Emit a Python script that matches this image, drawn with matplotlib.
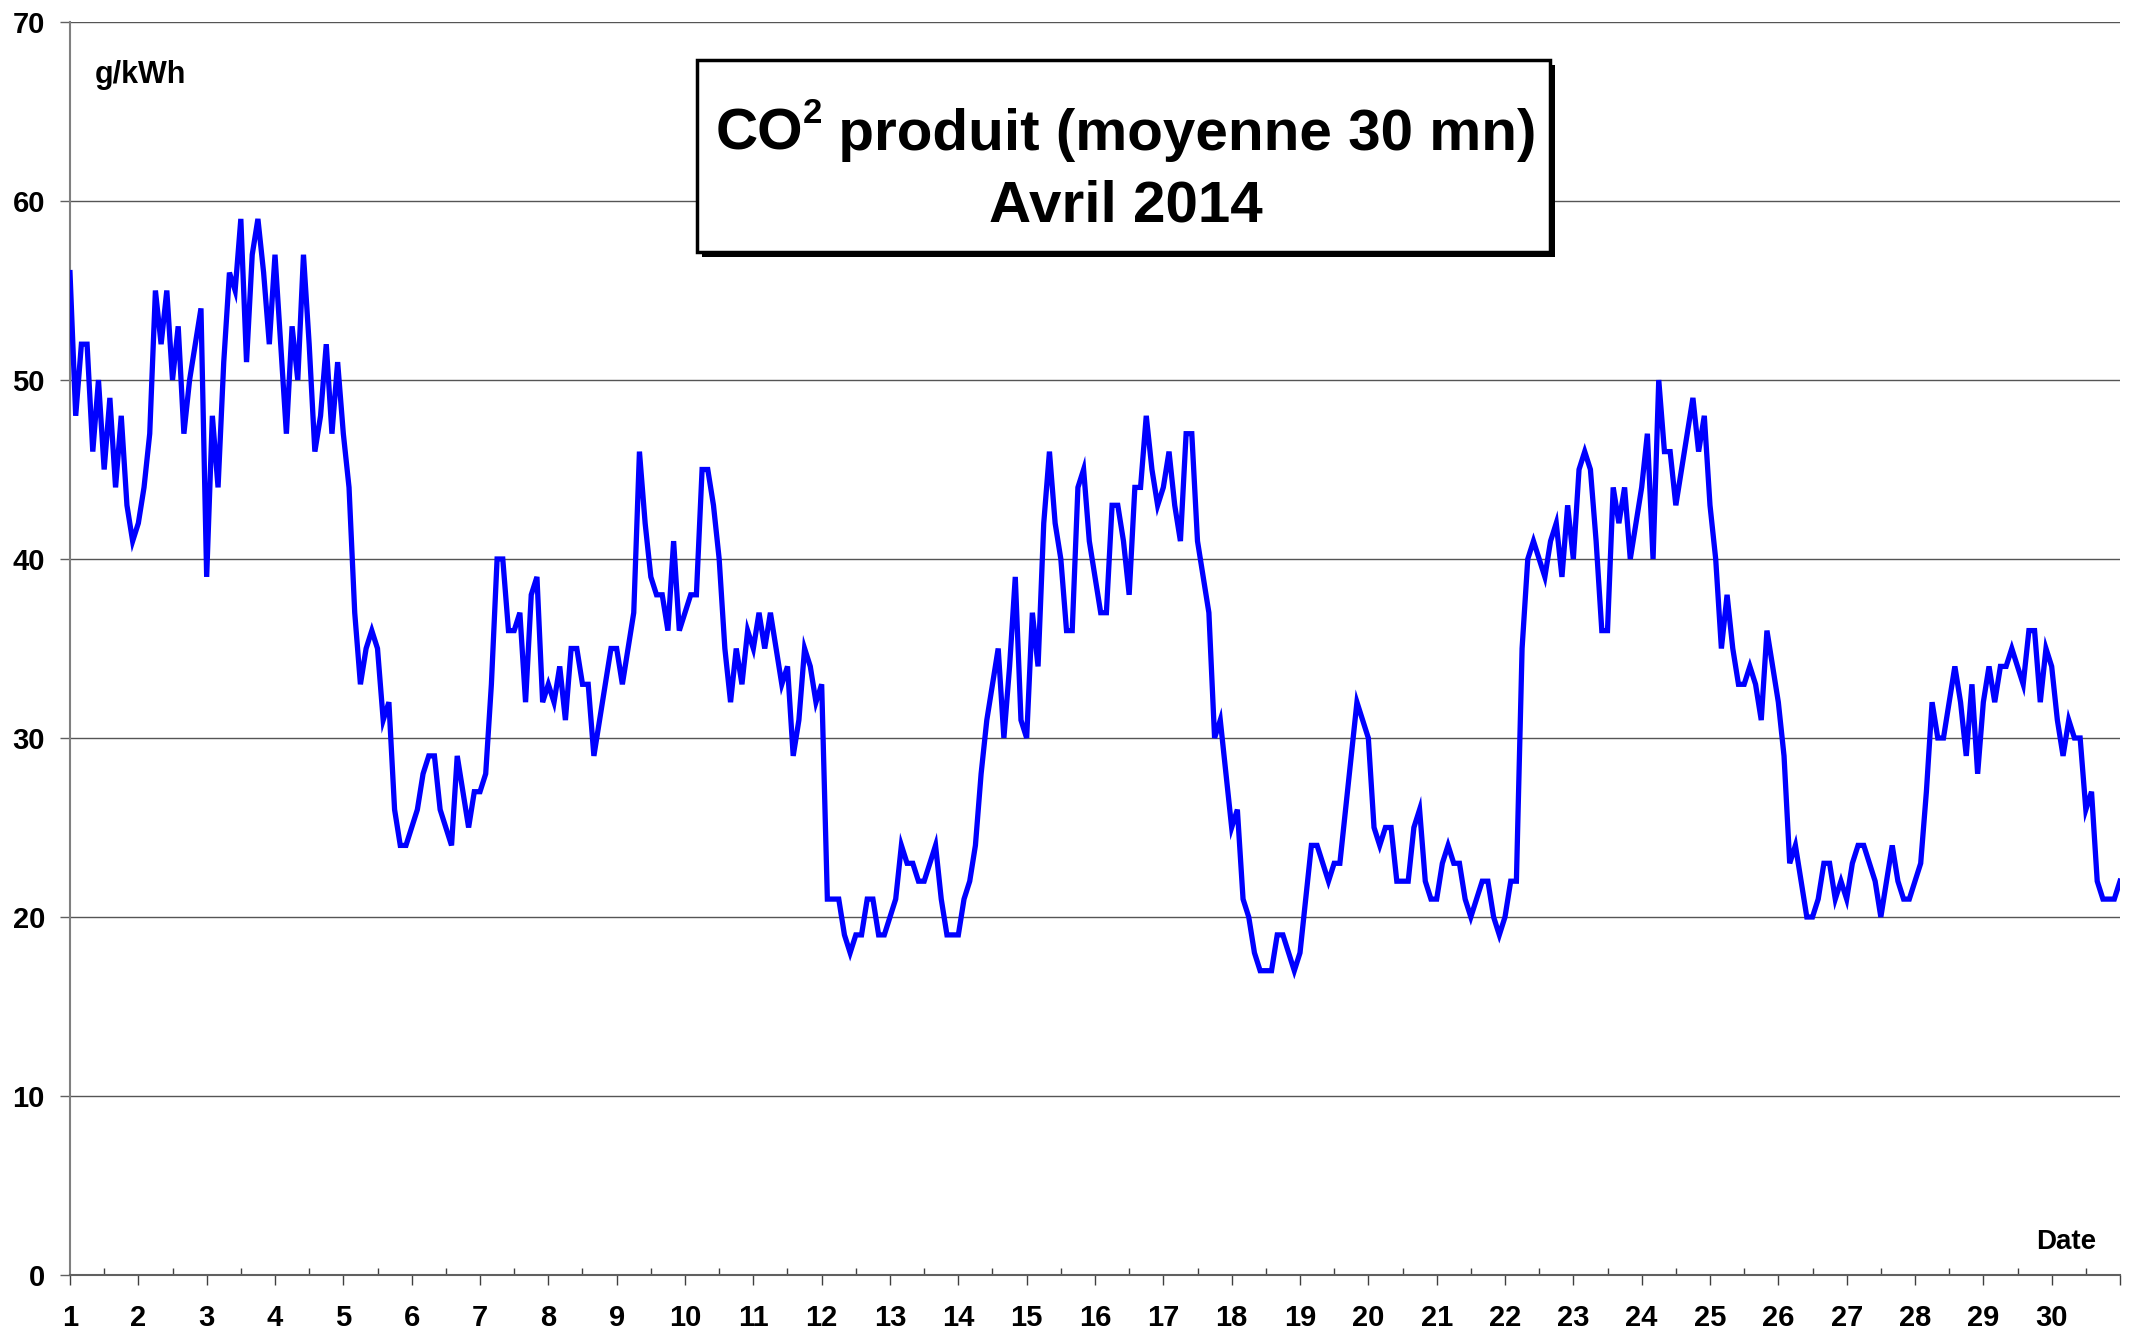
import matplotlib
matplotlib.use("Agg")
import matplotlib.pyplot as plt
import matplotlib.patches as patches
import numpy as np

plt.rcParams["font.family"] = ["Liberation Sans", "DejaVu Sans"]

# CO2 (g/kWh), read every 2 hours, one list per day of April 2014
j01 = [56, 48, 52, 52, 46, 50, 45, 49, 44, 48, 43, 41]
j02 = [42, 44, 47, 55, 52, 55, 50, 53, 47, 50, 52, 54]
j03 = [39, 48, 44, 51, 56, 55, 59, 51, 57, 59, 56, 52]
j04 = [57, 52, 47, 53, 50, 57, 52, 46, 48, 52, 47, 51]
j05 = [47, 44, 37, 33, 35, 36, 35, 31, 32, 26, 24, 24]
j06 = [25, 26, 28, 29, 29, 26, 25, 24, 29, 27, 25, 27]
j07 = [27, 28, 33, 40, 40, 36, 36, 37, 32, 38, 39, 32]
j08 = [33, 32, 34, 31, 35, 35, 33, 33, 29, 31, 33, 35]
j09 = [35, 33, 35, 37, 46, 42, 39, 38, 38, 36, 41, 36]
j10 = [37, 38, 38, 45, 45, 43, 40, 35, 32, 35, 33, 36]
j11 = [35, 37, 35, 37, 35, 33, 34, 29, 31, 35, 34, 32]
j12 = [33, 21, 21, 21, 19, 18, 19, 19, 21, 21, 19, 19]
j13 = [20, 21, 24, 23, 23, 22, 22, 23, 24, 21, 19, 19]
j14 = [19, 21, 22, 24, 28, 31, 33, 35, 30, 34, 39, 31]
j15 = [30, 37, 34, 42, 46, 42, 40, 36, 36, 44, 45, 41]
j16 = [39, 37, 37, 43, 43, 41, 38, 44, 44, 48, 45, 43]
j17 = [44, 46, 43, 41, 47, 47, 41, 39, 37, 30, 31, 28]
j18 = [25, 26, 21, 20, 18, 17, 17, 17, 19, 19, 18, 17]
j19 = [18, 21, 24, 24, 23, 22, 23, 23, 26, 29, 32, 31]
j20 = [30, 25, 24, 25, 25, 22, 22, 22, 25, 26, 22, 21]
j21 = [21, 23, 24, 23, 23, 21, 20, 21, 22, 22, 20, 19]
j22 = [20, 22, 22, 35, 40, 41, 40, 39, 41, 42, 39, 43]
j23 = [40, 45, 46, 45, 41, 36, 36, 44, 42, 44, 40, 42]
j24 = [44, 47, 40, 50, 46, 46, 43, 45, 47, 49, 46, 48]
j25 = [43, 40, 35, 38, 35, 33, 33, 34, 33, 31, 36, 34]
j26 = [32, 29, 23, 24, 22, 20, 20, 21, 23, 23, 21, 22]
j27 = [21, 23, 24, 24, 23, 22, 20, 22, 24, 22, 21, 21]
j28 = [22, 23, 27, 32, 30, 30, 32, 34, 32, 29, 33, 28]
j29 = [32, 34, 32, 34, 34, 35, 34, 33, 36, 36, 32, 35]
j30 = [34, 31, 29, 31, 30, 30, 26, 27, 22, 21, 21, 21]
last_value = 22  # 1 May 00:00

days = [j01, j02, j03, j04, j05, j06, j07, j08, j09, j10,
        j11, j12, j13, j14, j15, j16, j17, j18, j19, j20,
        j21, j22, j23, j24, j25, j26, j27, j28, j29, j30]
day_labels = [str(d) for d in range(1, 31)]

values = np.array(sum(days, []) + [last_value], dtype=float)
step = 1.0 / len(j01)
t = 1 + np.arange(len(values)) * step

W, H = 2138, 1337
fig = plt.figure(figsize=(W / 100, H / 100), dpi=100)
ax = fig.add_axes([70 / W, 62 / H, 2050 / W, 1253 / H])

ax.plot(t, values, color="#0000FF", lw=3.8, solid_joinstyle="miter", zorder=3)

ax.set_xlim(1, 31)
ax.set_ylim(0, 70)

ax.set_xticks(range(1, 32))
ax.set_xticklabels(day_labels + [""])
ax.set_xticks(np.arange(1.5, 31, 1), minor=True)
ax.set_yticks(range(0, 71, 10))

ax.tick_params(axis="x", which="major", direction="out", length=7, width=1,
               color="#404040", labelsize=21, pad=14)
ax.tick_params(axis="x", which="minor", direction="in", length=5, width=1,
               color="#404040")
ax.tick_params(axis="y", which="major", direction="out", length=7, width=1,
               color="#606060", labelsize=21, pad=11)
for lab in ax.get_xticklabels() + ax.get_yticklabels():
    lab.set_fontweight("bold")

ax.grid(axis="y", color="#555555", lw=1.0)
ax.set_axisbelow(True)
ax.spines["top"].set_visible(False)
ax.spines["right"].set_visible(False)
ax.spines["left"].set_color("#808080")
ax.spines["left"].set_linewidth(1.5)
ax.spines["bottom"].set_color("#606060")
ax.spines["bottom"].set_linewidth(1.5)
ax.spines["bottom"].set_zorder(4)

# unit and axis name
fig.text(95 / W, 1 - 83 / H, "g/kWh", fontsize=22, fontweight="bold",
         ha="left", va="baseline")
fig.text(2036 / W, 1 - 1249 / H, "Date", fontsize=20, fontweight="bold",
         ha="left", va="baseline")

# title box with shadow
bx0, by0, bx1, by1 = 697, 60, 1550, 252
sh = 5
shadow = patches.Rectangle(((bx0 + sh) / W, 1 - (by1 + sh) / H),
                           (bx1 - bx0) / W, (by1 - by0) / H,
                           transform=fig.transFigure, facecolor="black",
                           edgecolor="black", lw=0, zorder=1)
box = patches.Rectangle((bx0 / W, 1 - by1 / H), (bx1 - bx0) / W,
                        (by1 - by0) / H, transform=fig.transFigure,
                        facecolor="white", edgecolor="black", lw=2.5, zorder=2)
fig.patches.extend([shadow, box])

# first title line built in three pieces so the "2" can be small and raised
renderer = fig.canvas.get_renderer()
pieces = [("CO", 42, 0), ("2", 25, 27), (" produit (moyenne 30 mn)", 42, 0)]
widths = []
for txt, size, _ in pieces:
    tmp = fig.text(0, 0, txt, fontsize=size, fontweight="bold")
    widths.append(tmp.get_window_extent(renderer).width)
    tmp.remove()
x = 1126 - sum(widths) / 2
for (txt, size, rise), w in zip(pieces, widths):
    fig.text(x / W, 1 - (150 - rise) / H, txt, fontsize=size,
             fontweight="bold", ha="left", va="baseline", zorder=5)
    x += w

fig.text(1126 / W, 1 - 221 / H, "Avril 2014", fontsize=42,
         fontweight="bold", ha="center", va="baseline", zorder=5)

fig.savefig("out.png", dpi=100)
